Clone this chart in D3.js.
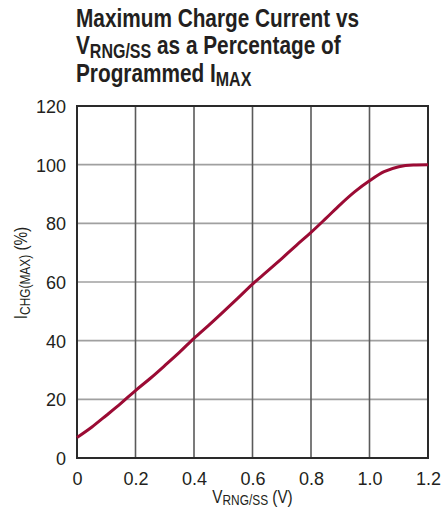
<!DOCTYPE html>
<html>
<head>
<meta charset="utf-8">
<script src="https://cdn.jsdelivr.net/npm/d3@7"></script>
<style>
  body { margin: 0; background: #fff; }
  text { font-family: "Liberation Sans", Arial, sans-serif; fill: #231f20; }
  .title { font-weight: bold; font-size: 26px; }
  .tick-label { font-size: 18px; }
</style>
</head>
<body>
<div id="chart"></div>
<script>
// data
var vrng = [0, 0.05, 0.1, 0.15, 0.2, 0.25, 0.3, 0.35, 0.4, 0.45, 0.5, 0.55, 0.6,
            0.65, 0.7, 0.75, 0.8, 0.85, 0.9, 0.95, 1.0, 1.05, 1.1, 1.15, 1.2];
var ichg = [7, 10.5, 14.5, 18.6, 23, 27.1, 31.5, 36, 40.8, 45.2, 49.8, 54.5, 59.3,
            63.6, 68, 72.5, 76.9, 81.6, 86.4, 90.8, 94.5, 97.6, 99.3, 99.9, 100];
var xTicks = [0, 0.2, 0.4, 0.6, 0.8, 1.0, 1.2];
var xTickLabels = ["0", "0.2", "0.4", "0.6", "0.8", "1.0", "1.2"];
var yTicks = [0, 20, 40, 60, 80, 100, 120];

var margin = {top: 106, right: 14, bottom: 50, left: 77},
    width = 442 - margin.left - margin.right,
    height = 508 - margin.top - margin.bottom;

var svg = d3.select("#chart")
  .append("svg")
    .attr("width", 442)
    .attr("height", 508);

var g = svg.append("g")
    .attr("transform", "translate(" + margin.left + "," + margin.top + ")");

var x = d3.scaleLinear().domain([0, 1.2]).range([0, width]);
var y = d3.scaleLinear().domain([0, 120]).range([height, 0]);

// horizontal grid (lighter)
g.selectAll(".hgrid")
  .data(yTicks.slice(1, -1))
  .enter().append("line")
    .attr("x1", 0).attr("x2", width)
    .attr("y1", function(d) { return y(d); })
    .attr("y2", function(d) { return y(d); })
    .attr("stroke", "#a0a0a0")
    .attr("stroke-width", 1.6);

// vertical grid (darker)
g.selectAll(".vgrid")
  .data(xTicks.slice(1, -1))
  .enter().append("line")
    .attr("y1", 0).attr("y2", height)
    .attr("x1", function(d) { return x(d); })
    .attr("x2", function(d) { return x(d); })
    .attr("stroke", "#5a5a5a")
    .attr("stroke-width", 1.6);

// frame
g.append("rect")
    .attr("width", width)
    .attr("height", height)
    .attr("fill", "none")
    .attr("stroke", "#2a2a2a")
    .attr("stroke-width", 2);

// axes (labels only, frame drawn above)
var xAxis = g.append("g")
    .attr("transform", "translate(0," + height + ")")
    .call(d3.axisBottom(x).tickValues(xTicks).tickSize(0).tickPadding(14)
      .tickFormat(function(d, i) { return xTickLabels[i]; }));

var yAxis = g.append("g")
    .call(d3.axisLeft(y).tickValues(yTicks).tickSize(0).tickPadding(11));

[xAxis, yAxis].forEach(function(a) {
  a.select(".domain").remove();
  a.selectAll("text")
    .attr("class", "tick-label")
    .attr("fill", "#231f20");
  a.attr("font-family", null).attr("font-size", null);
});
yAxis.selectAll("text").attr("dy", "0.36em");

// curve
var data = vrng.map(function(v, i) { return {v: v, i: ichg[i]}; });
var line = d3.line()
    .curve(d3.curveMonotoneX)
    .x(function(d) { return x(d.v); })
    .y(function(d) { return y(d.i); });

g.append("path")
    .datum(data)
    .attr("fill", "none")
    .attr("stroke", "#9b0b34")
    .attr("stroke-width", 3)
    .attr("stroke-linejoin", "round")
    .attr("d", line);

// title, squeezed to look condensed
function titleLine(yy) {
  return svg.append("text").attr("class", "title")
    .attr("transform", "translate(76," + yy + ") scale(0.8,1)");
}
titleLine(27).text("Maximum Charge Current vs");
var t2 = titleLine(54);
t2.append("tspan").text("V");
t2.append("tspan").attr("font-size", "20px").attr("dy", 4).text("RNG/SS");
t2.append("tspan").attr("dy", -4).text(" as a Percentage of");
var t3 = titleLine(82);
t3.append("tspan").text("Programmed I");
t3.append("tspan").attr("font-size", "20px").attr("dy", 4).text("MAX");

// x axis title
var xt = svg.append("text")
    .attr("transform", "translate(" + (margin.left + width / 2) + ",503) scale(0.85,1)")
    .attr("text-anchor", "middle")
    .attr("font-size", "18px");
xt.append("tspan").text("V");
xt.append("tspan").attr("font-size", "14px").attr("dy", 2).text("RNG/SS");
xt.append("tspan").attr("dy", -2).text(" (V)");

// y axis title
var yt = svg.append("text")
    .attr("transform", "translate(27,273) rotate(-90) scale(0.85,1)")
    .attr("text-anchor", "middle")
    .attr("font-size", "18px");
yt.append("tspan").text("I");
yt.append("tspan").attr("font-size", "14px").attr("dy", 3).text("CHG(MAX)");
yt.append("tspan").attr("dy", -3).text(" (%)");
</script>
</body>
</html>
